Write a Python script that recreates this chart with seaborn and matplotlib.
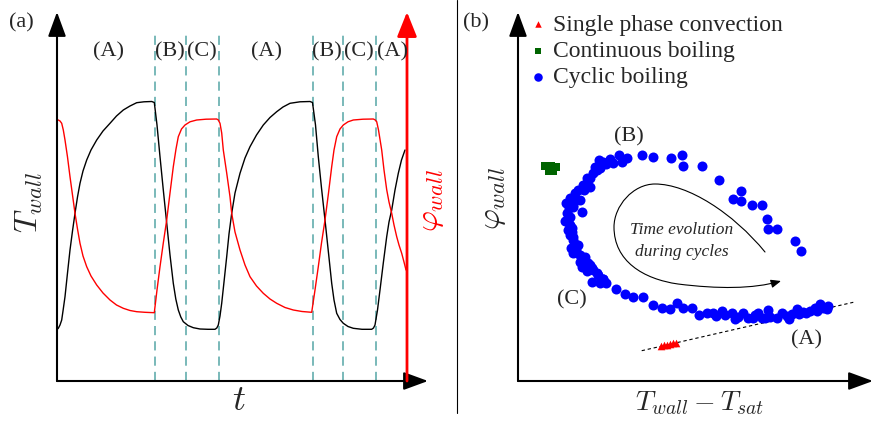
import numpy as np
import pandas as pd
import matplotlib
matplotlib.use("Agg")
import matplotlib.pyplot as plt
import seaborn as sns
from matplotlib.path import Path
from matplotlib.patches import FancyArrowPatch
from matplotlib.lines import Line2D

# ---------------- data: panel (a), wall temperature and heat flux versus time
t_black = [0.5, 1.3, 3, 4.7, 6, 8, 10.5, 13, 15.5, 18, 20.5, 23, 26, 29.7, 34, 39.7, 46, 53, 59.5, 66.3,
           73, 79.7, 87, 94.7, 97.3, 100, 103, 106.3, 109.7, 113, 116.3, 118.8, 121.3, 123.8, 126.3, 131,
           136.3, 143, 151, 158, 159.8, 161.3, 163, 164.7, 167, 169.7, 172, 174.7, 178, 183, 188, 193,
           199.5, 206.3, 213, 219.7, 226, 233, 243, 253, 255.5, 258.5, 261.3, 264.5, 268, 271.5, 274.7,
           277, 279.7, 283, 286.3, 291, 296.3, 305, 314.7, 316.5, 318, 320.5, 323, 326.3, 329.7, 332,
           334.7, 338, 341.3, 344.5, 348]
T_wall = [52, 52.7, 56, 61, 70, 84.3, 108, 131, 150, 167.7, 184, 197.7, 210, 221, 231, 241, 250, 257.7,
          265, 271, 275, 278.3, 279.2, 279.5, 278.5, 256, 224.3, 191, 158, 126, 97.7, 82, 71, 64, 59.3,
          55.5, 53.3, 52, 51.7, 51.7, 53, 56, 65, 77.7, 99, 124.3, 147, 167.7, 188, 207.7, 223, 234.3,
          246, 256, 263.5, 269.3, 274, 277.7, 279.2, 279.5, 278.5, 256, 224.3, 193, 161, 128, 97.7, 81,
          67.7, 61.5, 57.7, 54.5, 52.7, 51.7, 51.7, 53, 56, 71, 91, 118, 144.3, 159, 171, 191, 207.7,
          221, 231]

t_red = [0.5, 1.3, 3, 4.7, 6.3, 8, 10.5, 13, 15.5, 18, 20.5, 23, 26, 29.7, 34, 39.7, 46, 53, 59.5, 66.3,
         73, 79.7, 88, 97.3, 100, 103, 106.3, 109.7, 113, 116.3, 119, 121.3, 124.5, 128, 133, 139.7, 149,
         159.7, 161.3, 163, 164.7, 166.3, 169.7, 173, 174.7, 178, 183, 188, 193, 199.5, 206.3, 213, 219.7,
         228, 236.3, 245, 254.7, 258, 261.3, 264.5, 268, 271.5, 274.7, 277, 279.7, 283, 286.3, 291,
         296.3, 306, 316.3, 318, 319.7, 321.5, 324.7, 327, 329.7, 332, 334.7, 337, 339.7, 342, 344.7,
         347, 349]
phi_wall = [261, 261, 260, 257.7, 251, 241, 224, 204.3, 186, 167.7, 152, 137.7, 125, 114.3, 105, 96, 88,
            81, 76, 72.7, 70.5, 69.3, 68.7, 68.3, 91, 114.3, 138, 161, 188, 214.3, 232, 244.3, 252, 256,
            259.2, 261, 261.8, 262, 261, 257.7, 248, 231, 208, 184.3, 167.7, 149, 131, 116, 104.3, 95,
            87.7, 82, 77.7, 73.5, 71, 69.5, 68.7, 91, 114.3, 138, 161, 188, 214.3, 231, 244.3, 252, 256,
            259.2, 261, 261.8, 262, 261.2, 259.3, 251, 231, 211, 191.3, 179, 167.7, 156, 144.3, 136,
            127.7, 119, 111]

phase_bounds = [98, 129, 162, 256, 286, 319]
phase_labels = ["(A)", "(B)", "(C)", "(A)", "(B)", "(C)", "(A)"]
phase_label_t = [51, 113, 145, 209, 270, 302, 335]

# ---------------- data: panel (b), heat flux versus wall superheat
cyc_x = [81.3, 85.3, 92, 95.3, 101.3, 103.7, 108.7, 123.7, 135.3, 77, 79.3, 75.3, 72, 68.7, 65.3, 72,
         60.3, 62, 52, 55.3, 51.3, 52, 52, 53.7,
         153, 163.7, 165.3, 183.7, 201, 222.7, 214.7, 222.7, 234.3, 244.3, 249.3, 250.3, 258.7, 277.3,
         282.7,
         57, 63.7, 55.3, 50.3, 53.7, 52, 55.3, 60.3, 55.3, 62, 67, 63.7, 70.3, 73.7, 78.7, 85.3, 73.7,
         55.3, 58.7, 58.7, 65.3, 72, 75.3, 84.7,
         98, 107, 115.3, 125.3, 134.7, 143.7, 152, 159.3, 165.3, 173.7, 181.3, 195.3, 203.7, 207, 213.7,
         220.3, 225.3, 230.3, 237, 243.7, 250.3, 252, 258.7, 263.7, 268.7, 273.7, 278.7, 285.3, 292,
         297, 302, 305.3, 308.7,
         88, 82, 69, 66, 57, 48, 49, 48, 50, 53, 58, 67, 62, 69, 80, 82, 88, 47,
         189, 198, 217, 235, 240, 247, 271, 281, 288, 299, 310]
cyc_y = [221, 219.3, 221.7, 217.7, 226, 219.3, 222.7, 226, 224.3, 214.3, 211, 207.7, 202.7, 197.7, 196,
         194.3, 191, 181, 182.7, 176, 172.7, 164.3, 156, 149.3,
         222.7, 226, 215, 215, 201, 190.3, 181.7, 180.3, 176, 176, 162, 151.7, 151.7, 140.3, 129.7,
         181, 169.3, 174.3, 159.3, 152.7, 146, 141, 136, 127.7, 126, 124.3, 114.3, 117.7, 112.7, 107.7,
         101.7, 99.3, 144.3, 136, 127.7, 122.7, 116, 111, 101.7,
         91.7, 87, 83.7, 83.7, 76, 72.7, 72, 77.7, 72.7, 72.7, 66, 67.7, 70, 66, 67.7, 64.3, 67.7, 63.3,
         65.7, 63.3, 71, 64.3, 63.3, 67.7, 64.7, 66.7, 72, 69.3, 70, 72.7, 76.7, 73.3, 72,
         217, 213, 203, 191, 188, 178, 168, 160, 151, 133, 133, 119, 119, 110, 106, 98, 98, 160,
         68, 65, 62.5, 63, 68, 63.5, 62.5, 67, 68, 70, 75]
cont_x = [27, 33, 38, 31, 35]
cont_y = [215, 215, 214, 210, 210]
single_x = [143, 146, 149, 152, 155, 158]
single_y = [35, 35.7, 36.4, 37.1, 37.8, 38.5]
fit_x = [123.7, 335.3]
fit_y = [30.3, 78.7]

regimes = ["Single phase convection", "Continuous boiling", "Cyclic boiling"]

sns.set_theme(style="white")
plt.rcParams["font.family"] = ["Liberation Serif", "DejaVu Serif"]
plt.rcParams["mathtext.fontset"] = "cm"

W, H = 873, 421
fig = plt.figure(figsize=(W / 100, H / 100), dpi=100)


def px_axes(x0, y_bottom, x1, y_top):
    return fig.add_axes([x0 / W, 1 - y_bottom / H, (x1 - x0) / W, (y_bottom - y_top) / H])


def draw_arrow_axes(ax, color="black"):
    for sp in ax.spines.values():
        sp.set_visible(False)
    ax.set_xticks([])
    ax.set_yticks([])
    ax.set_facecolor("none")
    st = "-|>,head_length=1.5,head_width=0.55"
    ax.annotate("", xy=(0, 1), xytext=(0, 0), xycoords="axes fraction",
                arrowprops=dict(arrowstyle=st, color=color, lw=1.5, mutation_scale=10, shrinkA=0, shrinkB=0))
    ax.annotate("", xy=(1, 0), xytext=(0, 0), xycoords="axes fraction",
                arrowprops=dict(arrowstyle=st, color=color, lw=1.5, mutation_scale=10, shrinkA=0, shrinkB=0))


# ---------------- panel (a)
axa = px_axes(57, 381, 428, 12)
axa.set_xlim(0, 371)
axa.set_ylim(0, 369)
draw_arrow_axes(axa)

for tb in phase_bounds:
    axa.plot([tb, tb], [0, 349], color="#55a6a6", lw=1.1, dashes=(6, 4))

sns.lineplot(x=t_black, y=T_wall, ax=axa, color="black", lw=1.0, estimator=None, sort=False)
sns.lineplot(x=t_red, y=phi_wall, ax=axa, color="red", lw=1.0, estimator=None, sort=False)

axa.annotate("", xy=(350, 369), xytext=(350, 0), xycoords="data",
             arrowprops=dict(arrowstyle="-|>,head_length=1.5,head_width=0.6", color="red", lw=2.0,
                             mutation_scale=10, shrinkA=0, shrinkB=0), annotation_clip=False)

for lab, tl in zip(phase_labels, phase_label_t):
    axa.text(tl, 329, lab, ha="center", va="center", fontsize=16)

fig.text(21 / W, 1 - 23 / H, "(a)", ha="center", va="center", fontsize=16)
fig.text(29 / W, 1 - 203 / H, r"$T_{wall}$", ha="center", va="center", rotation=90, fontsize=23)
fig.text(239 / W, 1 - 401 / H, r"$t$", ha="center", va="center", fontsize=26)
fig.text(431 / W, 1 - 200 / H, r"$\varphi_{wall}$", ha="center", va="center", rotation=90,
         fontsize=23, color="red")

# divider between panels
fig.add_artist(Line2D([457 / W, 457 / W], [1.0, 1 - 413 / H], color="black", lw=0.8))

# ---------------- panel (b)
axb = px_axes(518, 381, 873, 12)
axb.set_xlim(0, 355)
axb.set_ylim(0, 369)
draw_arrow_axes(axb)

axb.plot(fit_x, fit_y, color="black", lw=0.8, dashes=(3, 2.5))

sns.scatterplot(x=single_x, y=single_y, ax=axb, marker="^", color="red", s=30, linewidth=0,
                label=regimes[0], zorder=3)
sns.scatterplot(x=cont_x, y=cont_y, ax=axb, marker="s", color="#006400", s=26, linewidth=0,
                label=regimes[1], zorder=3)
sns.scatterplot(x=cyc_x, y=cyc_y, ax=axb, marker="o", color="blue", s=52, linewidth=0,
                label=regimes[2], zorder=3)

leg = axb.legend(loc="upper left", bbox_to_anchor=(531 / W, 1 - 14 / H), bbox_transform=fig.transFigure,
                 frameon=False, fontsize=17, borderpad=0, handlelength=0.6, handletextpad=0.35,
                 labelspacing=0.2, borderaxespad=0, markerscale=0.85)

# time-evolution arrow inside the loop
loop_verts = [(247, 129), (215, 168), (170, 197), (137, 197),
              (115, 197), (96, 175), (96, 154),
              (96, 120), (125, 102), (160, 97),
              (200, 92), (235, 92), (263, 100)]
loop_codes = [Path.MOVETO] + [Path.CURVE4] * 12
axb.add_patch(FancyArrowPatch(path=Path(loop_verts, loop_codes), arrowstyle="-|>,head_length=6,head_width=2.5",
                              mutation_scale=1, color="black", lw=0.8))
axb.text(164, 151, "Time evolution", ha="center", va="center", fontsize=12.5, style="italic")
axb.text(164, 129, "during cycles", ha="center", va="center", fontsize=12.5, style="italic")

axb.text(111, 244, "(B)", ha="center", va="center", fontsize=16)
axb.text(54, 81, "(C)", ha="center", va="center", fontsize=16)
axb.text(289, 41, "(A)", ha="center", va="center", fontsize=16)

fig.text(476 / W, 1 - 23 / H, "(b)", ha="center", va="center", fontsize=16)
fig.text(493 / W, 1 - 198 / H, r"$\varphi_{wall}$", ha="center", va="center", rotation=90, fontsize=23)
fig.text(700 / W, 1 - 403 / H, r"$T_{wall} - T_{sat}$", ha="center", va="center", fontsize=20)

fig.savefig("out.png", dpi=100)
